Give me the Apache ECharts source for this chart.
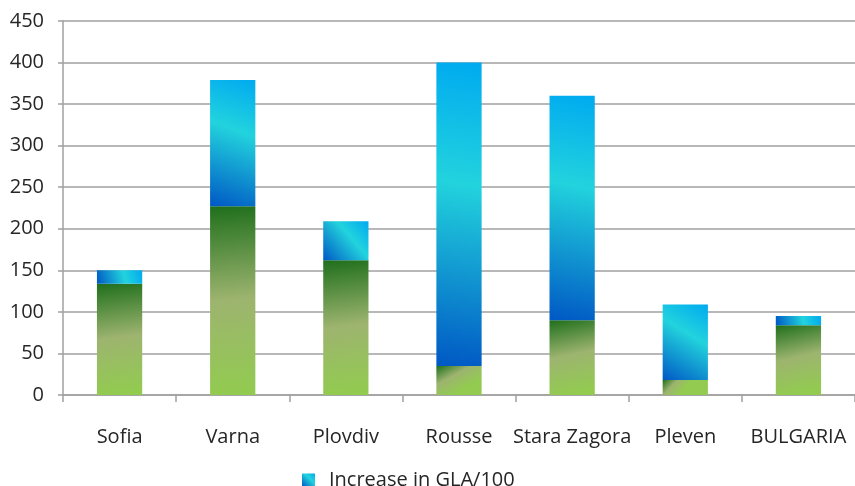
<!DOCTYPE html>
<html>
<head>
<meta charset="utf-8">
<script src="https://cdn.jsdelivr.net/npm/echarts@6/dist/echarts.min.js"></script>
<style>
  html, body { margin: 0; padding: 0; background: #fff; }
  #chart { width: 855px; height: 486px; }
</style>
</head>
<body>
<div id="chart"></div>
<script>
// Cities and their values (base level and increase in GLA/100)
const categories = ['Sofia', 'Varna', 'Plovdiv', 'Rousse', 'Stara Zagora', 'Pleven', 'BULGARIA'];
const baseValues = [134, 227, 162, 35, 90, 18, 84];
const increaseValues = [16, 152, 47, 365, 270, 91, 11];
const yTicks = [0, 50, 100, 150, 200, 250, 300, 350, 400, 450];

const greenFill = new echarts.graphic.LinearGradient(0, 0, 0.35, 1, [
  { offset: 0, color: '#1f6f1c' },
  { offset: 0.5, color: '#9db46f' },
  { offset: 1, color: '#92cb50' }
]);
const blueFill = new echarts.graphic.LinearGradient(1, 0, 0, 1, [
  { offset: 0, color: '#00aaf0' },
  { offset: 0.4, color: '#22d3dd' },
  { offset: 1, color: '#0058c4' }
]);

const textColor = '#262626';
const chart = echarts.init(document.getElementById('chart'));
chart.setOption({
  animation: false,
  textStyle: { fontFamily: 'Open Sans' },
  grid: { left: 63, right: 0, top: 21, bottom: 91 },
  legend: {
    data: [{ name: 'Increase in GLA/100', icon: 'rect' }],
    top: 465,
    left: 297,
    itemWidth: 13,
    itemHeight: 13,
    textStyle: { fontSize: 20, color: textColor, fontFamily: 'Open Sans', padding: [0, 0, 0, 9] }
  },
  xAxis: {
    type: 'category',
    data: categories,
    axisLine: { lineStyle: { color: '#a0a0a0', width: 1.5 } },
    axisTick: { show: true, length: 7, alignWithLabel: false, lineStyle: { color: '#a0a0a0', width: 1.5 } },
    axisLabel: { fontSize: 20, color: textColor, margin: 32, interval: 0 }
  },
  yAxis: {
    type: 'value',
    min: 0,
    max: 450,
    interval: 50,
    axisLine: { show: true, lineStyle: { color: '#a0a0a0', width: 1.5 } },
    axisTick: { show: true, length: 5, lineStyle: { color: '#a0a0a0', width: 1.5 } },
    axisLabel: {
      fontSize: 20, color: textColor, margin: 19,
      formatter: v => yTicks.includes(v) ? String(v) : ''
    },
    splitLine: { lineStyle: { color: '#a0a0a0', width: 1.5 } }
  },
  series: [
    {
      name: 'Base',
      type: 'bar',
      stack: 'total',
      barWidth: '40%',
      data: baseValues,
      itemStyle: { color: greenFill }
    },
    {
      name: 'Increase in GLA/100',
      type: 'bar',
      stack: 'total',
      barWidth: '40%',
      data: increaseValues,
      itemStyle: { color: blueFill }
    }
  ]
});
</script>
</body>
</html>
